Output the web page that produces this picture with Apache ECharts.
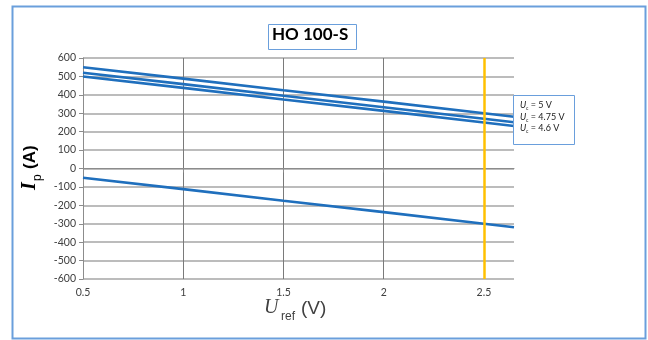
<!DOCTYPE html>
<html>
<head>
<meta charset="utf-8">
<script src="https://cdn.jsdelivr.net/npm/echarts@6/dist/echarts.min.js"></script>
<style>html,body{margin:0;padding:0;background:#fff}#c{width:648px;height:340px}</style>
</head>
<body>
<div id="c"></div>
<script>
// Data
const xValues = [0.5, 1, 1.5, 2, 2.5, 2.65];
const seriesNames = ['Uc = 5 V', 'Uc = 4.75 V', 'Uc = 4.6 V', 'offset'];
const uc5 = [550, 488, 425, 363, 300, 281];
const uc475 = [520, 458, 395, 333, 270, 251];
const uc46 = [500, 438, 375, 313, 250, 231];
const lower = [-50, -112, -175, -237, -300, -319];
const xTicks = [0.5, 1, 1.5, 2, 2.5];
const refLineX = 2.5;
const titleText = 'HO 100-S';
const legendLines = [['U', 'c', ' = 5 V'], ['U', 'c', ' = 4.75 V'], ['U', 'c', ' = 4.6 V']];

const chart = echarts.init(document.getElementById('c'));
const blue = '#1f6fbd';
const lab = {fontFamily: 'Lato', fontSize: 10.5, color: '#404040'};

function mk(name, vals, extra) {
  return Object.assign({
    name: name, type: 'line', showSymbol: false, symbol: 'none',
    data: xValues.map((x, i) => [x, vals[i]]),
    lineStyle: {color: blue, width: 2.6}, itemStyle: {color: blue},
    z: 3, silent: true, animation: false
  }, extra || {});
}

const legendGraphics = [];
legendLines.forEach((l, i) => {
  const y = 101 + i * 11.5;
  legendGraphics.push({type: 'text', left: 520, top: y, style: {text: l[0], font: 'italic 9px Lato', fill: '#202020'}});
  legendGraphics.push({type: 'text', left: 526, top: y + 5, style: {text: l[1], font: '5px Lato', fill: '#202020'}});
  legendGraphics.push({type: 'text', left: 528.5, top: y, style: {text: l[2], font: '9px Lato', fill: '#202020'}});
});

chart.setOption({
  animation: false,
  backgroundColor: '#ffffff',
  grid: {left: 83, right: 134, top: 58, bottom: 61, containLabel: false},
  xAxis: {
    type: 'value', min: 0.5, max: 2.65, interval: 0.5,
    axisLine: {show: true, lineStyle: {color: '#8c8c8c', width: 1}},
    axisTick: {show: true, length: 4, lineStyle: {color: '#8c8c8c'}, customValues: xTicks},
    axisLabel: Object.assign({margin: 8, customValues: xTicks}, lab),
    splitLine: {show: true, showMaxLine: false, lineStyle: {color: '#7a7a7a', width: 1}}
  },
  yAxis: {
    type: 'value', min: -600, max: 600, interval: 100,
    axisLine: {show: true, lineStyle: {color: '#8c8c8c', width: 1}},
    axisTick: {show: true, length: 4, lineStyle: {color: '#8c8c8c'}},
    axisLabel: Object.assign({margin: 7}, lab),
    splitLine: {show: true, lineStyle: {color: '#a6a6a6', width: 1.5}}
  },
  series: [
    mk(seriesNames[0], uc5, {
      markLine: {
        silent: true, symbol: 'none', animation: false,
        label: {show: false},
        lineStyle: {color: '#ffc000', width: 2.5, type: 'solid'},
        data: [{xAxis: refLineX}]
      }
    }),
    mk(seriesNames[1], uc475),
    mk(seriesNames[2], uc46),
    mk(seriesNames[3], lower)
  ],
  graphic: [
    {type: 'rect', left: 10, top: 4, shape: {width: 633, height: 332}, style: {fill: 'none', stroke: '#6a9fdc', lineWidth: 2}, silent: true},
    {type: 'rect', left: 268, top: 24, shape: {width: 88, height: 25}, style: {fill: '#fff', stroke: '#6a9fdc', lineWidth: 1}},
    {type: 'text', left: 272, top: 26, style: {text: titleText, font: 'bold 17px Lato', fill: '#000'}},
    {type: 'rect', left: 513, top: 95, shape: {width: 61, height: 49}, style: {fill: '#fff', stroke: '#6a9fdc', lineWidth: 1}, z: 10},
    ...legendGraphics.map(g => Object.assign(g, {z: 11})),
    // x axis name
    {type: 'text', left: 264, top: 298, style: {text: 'U', font: 'italic 20px "Liberation Serif"', fill: '#404040'}},
    {type: 'text', left: 281, top: 311, style: {text: 'ref', font: '12px "Liberation Sans"', fill: '#404040'}},
    {type: 'text', left: 301, top: 299, style: {text: '(V)', font: '19px "Liberation Sans"', fill: '#404040'}},
    // y axis name (rotated)
    {type: 'group', x: 22, y: 166, rotation: Math.PI / 2, children: [
      {type: 'text', x: -24, y: -2, style: {text: 'I', font: 'italic bold 20px "Liberation Serif"', fill: '#000'}},
      {type: 'text', x: -15, y: 10, style: {text: 'p', font: '12px "Liberation Sans"', fill: '#000'}},
      {type: 'text', x: -3, y: 0, style: {text: '(A)', font: 'bold 17px "Liberation Sans"', fill: '#000'}}
    ]}
  ]
});
</script>
</body>
</html>
